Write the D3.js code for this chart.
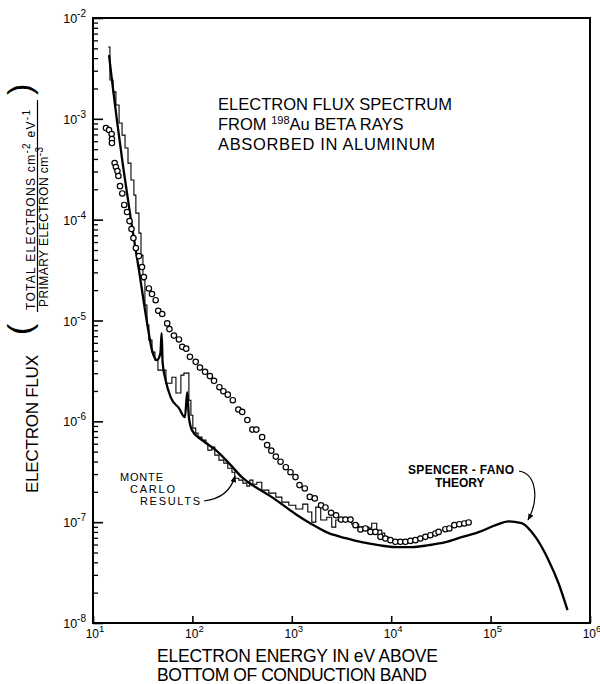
<!DOCTYPE html>
<html>
<head>
<meta charset="utf-8">
<script src="https://d3js.org/d3.v7.min.js"></script>
<style>
  body { margin: 0; background: #fff; }
  svg { display: block; font-family: "Liberation Sans", Arial, sans-serif; }
</style>
</head>
<body>
<svg width="600" height="684"></svg>
<script>
// Spencer-Fano theory (energy in eV, flux)
const theoryE = [14.5, 15.5, 17.4, 20.0, 24.1, 29.0, 34.9, 39.2, 44.0, 47.7,
  49.0, 50.2, 53.8, 60.4, 73.2, 84.1, 88.7, 92.2, 98.9, 125,
  172, 233, 314, 435, 630, 794, 1097, 1589, 2355, 3488,
  5052, 7488, 11100, 16070, 23820, 35290, 51110, 75750, 112300, 151700,
  205000, 283500, 382800, 482500, 594000];
const theoryF = [4.29e-3, 2.43e-3, 9.73e-4, 3.48e-4, 9.91e-5, 3.16e-5, 9.64e-6, 5.08e-6, 4.05e-6, 4.75e-6,
  7.50e-6, 3.78e-6, 2.56e-6, 1.74e-6, 1.35e-6, 1.10e-6, 1.95e-6, 1.10e-6, 8.18e-7, 6.51e-7,
  5.18e-7, 3.85e-7, 2.80e-7, 2.22e-7, 1.77e-7, 1.51e-7, 1.20e-7, 9.55e-8, 7.78e-8, 6.94e-8,
  6.33e-8, 5.91e-8, 5.65e-8, 5.65e-8, 5.91e-8, 6.33e-8, 7.10e-8, 7.96e-8, 9.34e-8, 1.02e-7,
  9.77e-8, 7.10e-8, 4.20e-8, 2.48e-8, 1.34e-8];

// Monte Carlo histogram (bin start energy, level)
const mcE = [14.2, 14.8, 15.9, 17.0, 18.3, 19.6, 21.0, 22.5, 24.1, 25.8,
  27.0, 29.0, 30.4, 31.8, 33.3, 34.9, 36.5, 39.2, 42.0, 45.0,
  54.2, 62.2, 68.3, 76.6, 82.2, 92.2, 96.6, 101, 108, 114,
  125, 137, 143, 157, 168, 185, 207, 227, 250, 267,
  293, 322, 353, 378, 406, 445, 499, 587, 691, 794,
  933, 1097, 1290, 1448, 1589, 1743, 1956, 2247, 2523, 2768,
  3180, 4009, 4714, 5941, 6368, 7149, 8027, 8603, 9438, 10840, 11900];
const mcF = [5.16e-3, 2.43e-3, 1.85e-3, 1.37e-3, 9.08e-4, 6.90e-4, 5.13e-4, 3.64e-4, 2.47e-4, 1.75e-4,
  1.16e-4, 7.36e-5, 4.45e-5, 2.52e-5, 1.42e-5, 9.0e-6, 6.39e-6, 4.86e-6, 4.05e-6, 3.22e-6,
  2.39e-6, 2.74e-6, 1.91e-6, 2.87e-6, 3.01e-6, 1.62e-6, 1.15e-6, 8.56e-7, 7.64e-7, 6.97e-7,
  6.51e-7, 6.08e-7, 5.18e-7, 5.55e-7, 4.62e-7, 4.12e-7, 3.85e-7, 3.43e-7, 3.13e-7, 2.73e-7,
  2.61e-7, 2.44e-7, 2.28e-7, 2.61e-7, 2.38e-7, 2.49e-7, 2.08e-7, 1.94e-7, 1.77e-7, 1.58e-7,
  1.47e-7, 1.35e-7, 1.51e-7, 1.26e-7, 1.00e-7, 1.41e-7, 1.05e-7, 1.12e-7, 8.92e-8, 1.05e-7,
  1.10e-7, 9.55e-8, 8.92e-8, 8.72e-8, 9.77e-8, 8.33e-8, 7.78e-8, 7.10e-8, 6.48e-8, 6.19e-8, 6.19e-8];

// open circles
const circE = [13.5, 14.5, 15.4, 15.5, 15.5, 16.5, 17.0, 17.6, 18.0, 18.7,
  19.7, 20.6, 22.0, 23.3, 24.4, 25.5, 27.0, 29.0, 31.1, 32.5,
  36.5, 39.2, 42.7, 45.3, 49.7, 55.8, 58.7, 65.2, 73.2, 79.0,
  86.6, 94.4, 108, 119, 134, 150, 165, 187, 205, 227,
  255, 290, 317, 357, 401, 440, 503, 565, 622, 691,
  770, 871, 970, 1089, 1195, 1351, 1517, 1703, 1970, 2181,
  2483, 2788, 3129, 3466, 3890, 4367, 4903, 5504, 6180, 6937,
  7789, 8745, 9817, 11020, 12370, 13890, 15600, 17510, 19660, 22070,
  24780, 27820, 30020, 35050, 38440, 43170, 48460, 54410, 60100];
const circF = [8.10e-4, 7.74e-4, 7.07e-4, 6.30e-4, 5.75e-4, 3.64e-4, 3.33e-4, 3.03e-4, 2.71e-4, 2.15e-4,
  1.82e-4, 1.40e-4, 1.19e-4, 9.68e-5, 8.07e-5, 6.57e-5, 5.23e-5, 4.35e-5, 3.39e-5, 2.70e-5,
  2.08e-5, 1.83e-5, 1.59e-5, 1.25e-5, 1.16e-5, 9.36e-6, 8.22e-6, 7.08e-6, 6.49e-6, 5.48e-6,
  5.26e-6, 4.36e-6, 3.89e-6, 3.41e-6, 3.10e-6, 2.81e-6, 2.52e-6, 2.18e-6, 1.99e-6, 1.84e-6,
  1.62e-6, 1.31e-6, 1.24e-6, 1.03e-6, 8.28e-7, 8.28e-7, 6.97e-7, 5.81e-7, 5.12e-7, 4.47e-7,
  3.98e-7, 3.51e-7, 3.13e-7, 2.80e-7, 2.33e-7, 2.16e-7, 1.78e-7, 1.72e-7, 1.47e-7, 1.40e-7,
  1.24e-7, 1.17e-7, 1.06e-7, 1.06e-7, 1.06e-7, 9.34e-8, 8.46e-8, 8.66e-8, 8.01e-8, 8.01e-8,
  7.15e-8, 6.89e-8, 6.63e-8, 6.38e-8, 6.38e-8, 6.38e-8, 6.52e-8, 6.63e-8, 6.89e-8, 7.15e-8,
  7.43e-8, 7.73e-8, 8.01e-8, 8.52e-8, 8.66e-8, 9.34e-8, 9.55e-8, 9.71e-8, 9.93e-8];

const xTickExp = [1, 2, 3, 4, 5, 6];
const yTickExp = [-2, -3, -4, -5, -6, -7, -8];

const svg = d3.select("svg");
const x = d3.scaleLog().domain([10, 1e6]).range([93, 590]);
const y = d3.scaleLog().domain([1e-8, 1e-2]).range([623, 18]);

// arrow marker
svg.append("defs").append("marker")
    .attr("id", "arrow")
    .attr("viewBox", "0 0 10 10")
    .attr("refX", 9).attr("refY", 5)
    .attr("markerWidth", 7).attr("markerHeight", 7)
    .attr("markerUnits", "userSpaceOnUse")
    .attr("orient", "auto")
  .append("path")
    .attr("d", "M0,1 L10,5 L0,9 Z")
    .attr("fill", "#000");

// ticks (inward)
const minorY = [];
for (let d = -8; d < -2; d++) for (let k = 2; k <= 9; k++) minorY.push(k * Math.pow(10, d));

svg.append("g")
    .attr("transform", `translate(${x.range()[0]},0)`)
    .call(d3.axisLeft(y).tickValues(minorY).tickSize(-5).tickSizeOuter(0).tickFormat(""))
    .call(g => g.select(".domain").remove())
    .call(g => g.selectAll("line").attr("stroke-width", 1.3));

svg.append("g")
    .attr("transform", `translate(${x.range()[0]},0)`)
    .call(d3.axisLeft(y).tickValues(yTickExp.map(e => Math.pow(10, e))).tickSize(-10).tickSizeOuter(0).tickFormat(""))
    .call(g => g.select(".domain").remove())
    .call(g => g.selectAll("line").attr("stroke-width", 1.6));

svg.append("g")
    .attr("transform", `translate(0,${y.range()[0]})`)
    .call(d3.axisBottom(x).tickValues(xTickExp.map(e => Math.pow(10, e))).tickSize(-7).tickSizeOuter(0).tickFormat(""))
    .call(g => g.select(".domain").remove())
    .call(g => g.selectAll("line").attr("stroke-width", 1.6));

// frame
svg.append("rect")
    .attr("x", x.range()[0]).attr("y", y.range()[1])
    .attr("width", x.range()[1] - x.range()[0])
    .attr("height", y.range()[0] - y.range()[1])
    .attr("fill", "none").attr("stroke", "#000").attr("stroke-width", 2);

// tick labels
const yl = svg.append("g").selectAll("text").data(yTickExp).enter().append("text")
    .attr("x", x.range()[0] - 7)
    .attr("y", d => y(Math.pow(10, d)) + 5)
    .attr("text-anchor", "end")
    .attr("font-size", 12.5);
yl.append("tspan").text("10");
yl.append("tspan").attr("dy", -6).attr("font-size", 10).text(d => "-" + Math.abs(d));

const xl = svg.append("g").selectAll("text").data(xTickExp).enter().append("text")
    .attr("x", d => x(Math.pow(10, d)) + 2)
    .attr("y", y.range()[0] + 15)
    .attr("text-anchor", "middle")
    .attr("font-size", 12);
xl.append("tspan").text("10");
xl.append("tspan").attr("dy", -6).attr("font-size", 9.5).text(d => d);

// data
const theory = theoryE.map((e, i) => [e, theoryF[i]]);
const mc = mcE.map((e, i) => [e, mcF[i]]);
const circ = circE.map((e, i) => [e, circF[i]]);

svg.append("path")
    .datum(mc)
    .attr("d", d3.line().x(d => x(d[0])).y(d => y(d[1])).curve(d3.curveStepAfter))
    .attr("fill", "none").attr("stroke", "#000").attr("stroke-width", 1.1);

svg.append("path")
    .datum(theory)
    .attr("d", d3.line().x(d => x(d[0])).y(d => y(d[1])).curve(d3.curveMonotoneX))
    .attr("fill", "none").attr("stroke", "#000").attr("stroke-width", 2.3)
    .attr("stroke-linejoin", "round");

svg.append("g").selectAll("circle").data(circ).enter().append("circle")
    .attr("cx", d => x(d[0]))
    .attr("cy", d => y(d[1]))
    .attr("r", 2.7)
    .attr("fill", "#fff").attr("stroke", "#000").attr("stroke-width", 1.2);

// title block
const title = svg.append("g").attr("font-size", 16.5);
title.append("text").attr("x", 218).attr("y", 110).attr("textLength", 234).text("ELECTRON FLUX SPECTRUM");
const t2 = title.append("text").attr("x", 218).attr("y", 130);
t2.append("tspan").text("FROM ");
t2.append("tspan").attr("dy", -6).attr("font-size", 11).text("198");
t2.append("tspan").attr("dy", 6).text("Au BETA RAYS");
title.append("text").attr("x", 218).attr("y", 150).attr("textLength", 217).text("ABSORBED IN ALUMINUM");

// x axis title
svg.append("text").attr("x", 157).attr("y", 662).attr("font-size", 17.5)
    .attr("textLength", 281).text("ELECTRON ENERGY IN eV ABOVE");
svg.append("text").attr("x", 157).attr("y", 681).attr("font-size", 17.5)
    .attr("textLength", 270).text("BOTTOM OF CONDUCTION BAND");

// y axis title (rotated)
svg.append("text")
    .attr("transform", "translate(38,493) rotate(-90)")
    .attr("font-size", 17).attr("textLength", 138)
    .text("ELECTRON FLUX");

const frac = svg.append("g");
const num = frac.append("text")
    .attr("transform", "translate(35,310) rotate(-90)")
    .attr("font-size", 12).attr("textLength", 200);
num.append("tspan").text("TOTAL ELECTRONS cm");
num.append("tspan").attr("dy", -5).attr("font-size", 10).text("-2");
num.append("tspan").attr("dy", 5).text(" eV");
num.append("tspan").attr("dy", -5).attr("font-size", 10).text("-1");
const den = frac.append("text")
    .attr("transform", "translate(48,307) rotate(-90)")
    .attr("font-size", 12).attr("textLength", 160);
den.append("tspan").text("PRIMARY ELECTRON cm");
den.append("tspan").attr("dy", -5).attr("font-size", 10).text("-3");
frac.append("line")
    .attr("x1", 37.5).attr("x2", 37.5).attr("y1", 312).attr("y2", 100)
    .attr("stroke", "#000").attr("stroke-width", 1.2);
frac.append("text")
    .attr("transform", "translate(31,335) rotate(-90)")
    .attr("font-size", 34).attr("font-weight", 300).text("(");
frac.append("text")
    .attr("transform", "translate(31,95) rotate(-90)")
    .attr("font-size", 34).attr("font-weight", 300).text(")");

// annotations
const ann = svg.append("g").attr("font-size", 11);
ann.append("text").attr("x", 120).attr("y", 481).attr("textLength", 43).text("MONTE");
ann.append("text").attr("x", 130).attr("y", 493).attr("textLength", 45).text("CARLO");
ann.append("text").attr("x", 140).attr("y", 505).attr("textLength", 60).text("RESULTS");
svg.append("path")
    .attr("d", "M204,501 Q229,498 235,476")
    .attr("fill", "none").attr("stroke", "#000").attr("stroke-width", 1.2)
    .attr("marker-end", "url(#arrow)");

const sf = svg.append("g").attr("font-size", 12).attr("font-weight", "bold");
sf.append("text").attr("x", 408).attr("y", 474).attr("textLength", 106).text("SPENCER - FANO");
sf.append("text").attr("x", 435).attr("y", 487).text("THEORY");
svg.append("path")
    .attr("d", "M519,471 C537,474 539,500 528,520")
    .attr("fill", "none").attr("stroke", "#000").attr("stroke-width", 1.2)
    .attr("marker-end", "url(#arrow)");
</script>
</body>
</html>
